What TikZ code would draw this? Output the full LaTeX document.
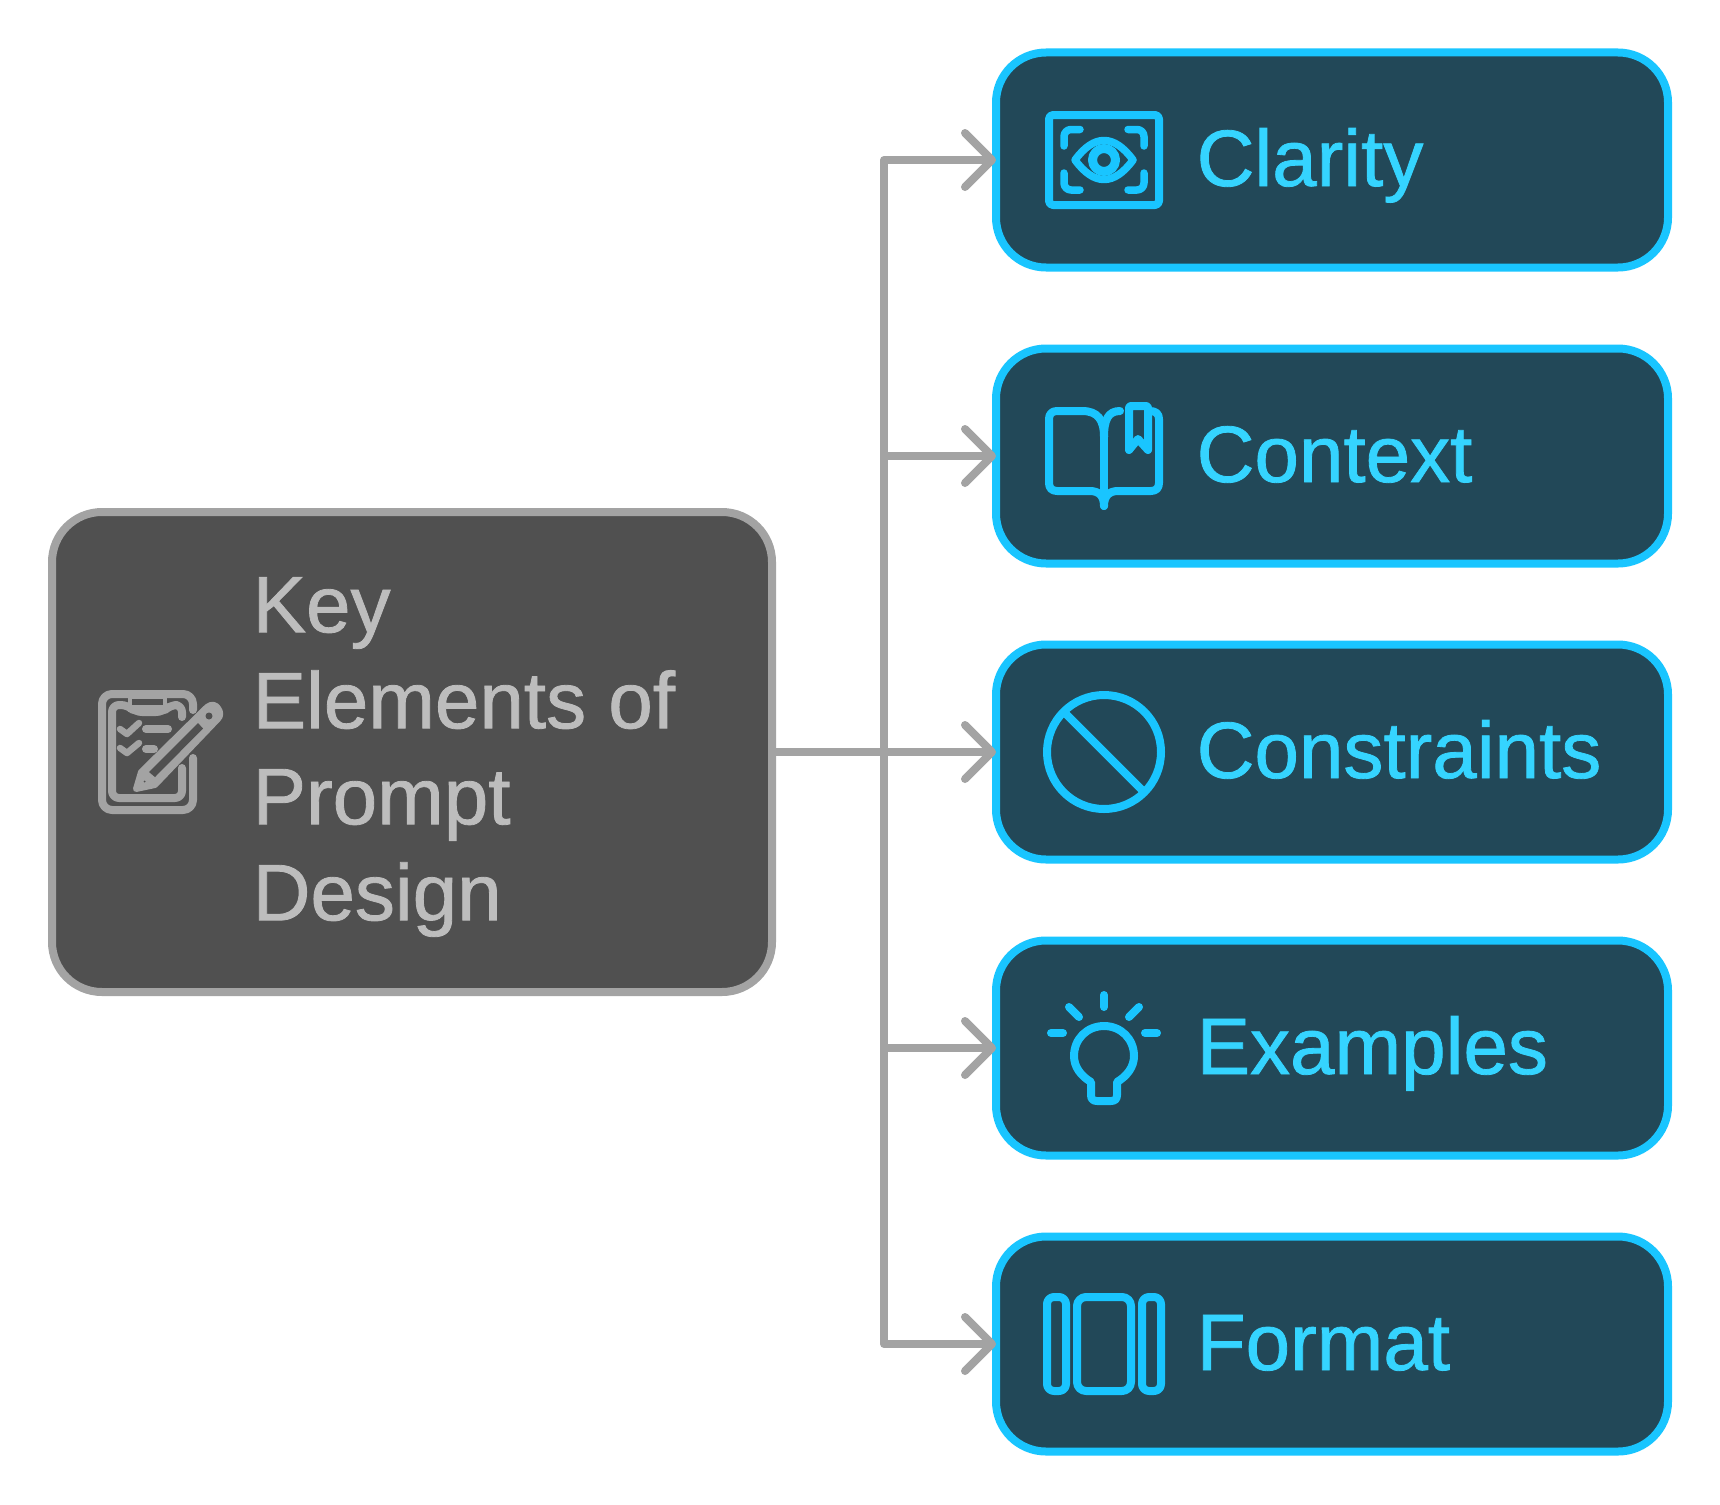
\documentclass[tikz,border=0pt]{standalone}
\usepackage{fontspec}
\setmainfont[FakeBold=1]{Liberation Sans}
\usetikzlibrary{arrows.meta,calc}
\definecolor{cyanline}{HTML}{19C5FF}
\definecolor{cyantext}{HTML}{35D4FF}
\definecolor{cyanfill}{HTML}{224858}
\definecolor{darkfill}{HTML}{505050}
\definecolor{grayline}{HTML}{A3A3A3}
\definecolor{graytext}{HTML}{BDBDBD}
\tikzset{
  child box/.style={draw=cyanline,fill=cyanfill,line width=8pt,rounded corners=50pt,minimum width=672pt,minimum height=215pt,inner sep=0pt,outer sep=0pt},
  main box/.style={draw=grayline,fill=darkfill,line width=8pt,rounded corners=50pt,minimum width=720pt,minimum height=480pt,inner sep=0pt,outer sep=0pt},
  child text/.style={text=cyantext,font=\fontsize{80}{96}\selectfont,anchor=base west,inner sep=0pt},
  main text/.style={text=graytext,font=\fontsize{80}{96}\selectfont,anchor=west,align=left,inner sep=0pt},
  conn/.style={draw=grayline,line width=8pt,line cap=round,line join=round},
  tipped/.style={conn,-{Straight Barb[length=27pt,width=54pt,line width=8pt,round]}},
  ico/.style={draw=cyanline,line width=8pt,line cap=round,line join=round},
  gico/.style={draw=grayline,line width=8pt,line cap=round,line join=round},
}
\begin{document}
\begin{tikzpicture}[x=1pt,y=-1pt]
\useasboundingbox (0,0) rectangle (1720,1504);
\fill[white] (0,0) rectangle (1720,1504);
\node[main box] (main) at (412,752) {};
\node[child box] (c1) at (1332,160) {};
\node[child box] (c2) at (1332,456) {};
\node[child box] (c3) at (1332,752) {};
\node[child box] (c4) at (1332,1048) {};
\node[child box] (c5) at (1332,1344) {};
\node[main text] (maint) at (252.5,757) {Key\\Elements of\\Prompt\\Design};
\node[child text] (t1) at (1196.5,186) {Clarity};
\node[child text] (t2) at (1196.5,482) {Context};
\node[child text] (t3) at (1196.5,778) {Constraints};
\node[child text] (t4) at (1196.5,1074) {Examples};
\node[child text] (t5) at (1196.5,1370) {Format};
\coordinate (trunk) at (884,752);
\draw[conn] (main.east) -- (trunk);
\draw[tipped] (trunk) |- (c1.west);
\draw[tipped] (trunk) |- (c2.west);
\draw[tipped] (trunk) -- (c3.west);
\draw[tipped] (trunk) |- (c4.west);
\draw[tipped] (trunk) |- (c5.west);
% eye icon
\draw[ico,rounded corners=4pt] (1049,115) rectangle (1159,205);
\draw[ico,line width=7.5pt,rounded corners=7pt] (1064,146) -- (1064,129.5) -- (1080,129.5);
\draw[ico,line width=7.5pt,rounded corners=7pt] (1128,129.5) -- (1144,129.5) -- (1144,146);
\draw[ico,line width=7.5pt,rounded corners=7pt] (1064,173) -- (1064,190) -- (1080,190);
\draw[ico,line width=7.5pt,rounded corners=7pt] (1128,190) -- (1144,190) -- (1144,173);
\draw[ico,line width=7.5pt] (1075,160) .. controls (1094,134) and (1114,134) .. (1133,160) .. controls (1114,186) and (1094,186) .. (1075,160) -- cycle;
\draw[ico,line width=9pt] (1104,160) circle (11.5);
% book icon
\draw[ico] (1104,437) .. controls (1104,420) and (1098,411) .. (1082,411) -- (1057,411) .. controls (1052,411) and (1049,414) .. (1049,419) -- (1049,483) .. controls (1049,488) and (1052,491) .. (1057,491) -- (1090,491) .. controls (1099,491) and (1104,496) .. (1104,506);
\draw[ico] (1104,437) -- (1104,506);
\draw[ico] (1104,437) .. controls (1104,420) and (1108,411) .. (1120,411);
\draw[ico] (1104,506) .. controls (1104,496) and (1109,491) .. (1118,491) -- (1151,491) .. controls (1156,491) and (1159,488) .. (1159,483) -- (1159,419) .. controls (1159,414) and (1156,411) .. (1150,411);
\draw[ico,rounded corners=2pt] (1129,450) -- (1129,406) -- (1148,406) -- (1148,450);
\draw[ico] (1129,450) -- (1138,439) -- (1148,450);
% no entry icon
\draw[ico] (1104,752) circle (57);
\draw[ico,line cap=butt] (1063.7,711.7) -- (1144.3,792.3);
% bulb icon
\draw[ico] (1104,995) -- (1104,1007);
\draw[ico] (1069,1007) -- (1079,1017);
\draw[ico] (1139,1007) -- (1129,1017);
\draw[ico] (1051,1033) -- (1063,1033);
\draw[ico] (1145,1033) -- (1157,1033);
\draw[ico] (1091,1082) .. controls (1081,1076) and (1074,1067) .. (1074,1056) .. controls (1074,1039) and (1087,1026) .. (1104,1026) .. controls (1121,1026) and (1134,1039) .. (1134,1056) .. controls (1134,1067) and (1127,1076) .. (1117,1082) -- (1117,1095) .. controls (1117,1099) and (1115,1101) .. (1111,1101) -- (1097,1101) .. controls (1093,1101) and (1091,1099) .. (1091,1095) -- cycle;
% format icon
\draw[ico,rounded corners=7pt] (1047,1297) rectangle (1066,1391);
\draw[ico,rounded corners=9pt] (1077,1297) rectangle (1131,1391);
\draw[ico,rounded corners=7pt] (1142,1297) rectangle (1161,1391);
% clipboard icon
\draw[gico,rounded corners=10pt] (193,710) -- (193,694) -- (102,694) -- (102,810) -- (193,810) -- (193,758);
\draw[gico,rounded corners=7pt] (182,717) -- (182,705) -- (170,705) -- (163,712) -- (135,712) -- (128,705) -- (112,705) -- (112,798) -- (182,798) -- (182,768);
\fill[grayline] (128,696) rectangle (167,712);
\fill[darkfill] (132,698.5) rectangle (163,705);
\draw[gico,line width=6.5pt] (120,729) -- (127,734) -- (139,723);
\draw[gico,line width=6.5pt] (120,748) -- (127,753) -- (139,743);
\draw[gico] (146,729) -- (168,729);
\draw[gico] (146,749) -- (154,749);
\draw[gico,fill=grayline,line width=6pt] (136,789) -- (141,772) -- (207,707) .. controls (212,703) and (216,705) .. (218,708) .. controls (221,712) and (221,716) .. (218,719) -- (155,785) -- cycle;
\fill[darkfill] (149,772) -- (198,723) -- (203,728.5) -- (155,777) -- cycle;
\fill[darkfill] (209,716) circle (3.5);
\fill[darkfill] (144.7,781.5) circle (1);
\end{tikzpicture}
\end{document}
